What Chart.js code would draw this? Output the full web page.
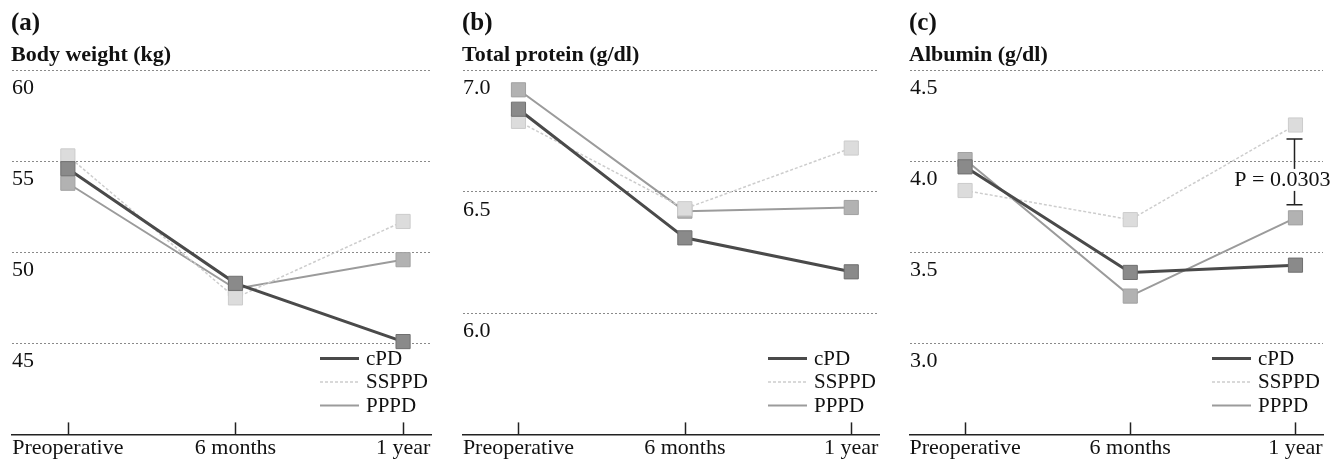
<!DOCTYPE html>
<html>
<head>
<meta charset="utf-8">
<script src="https://cdn.jsdelivr.net/npm/chart.js"></script>
<style>
  html, body { margin: 0; padding: 0; background: #fff; }
  body { width: 1335px; height: 459px; position: relative; overflow: hidden; }
  .panel { position: absolute; top: 0; height: 459px; }
</style>
</head>
<body>
<div class="panel" id="wrapA" style="left:1px;width:442px"><canvas id="chartA"></canvas></div>
<div class="panel" id="wrapB" style="left:452px;width:439px"><canvas id="chartB"></canvas></div>
<div class="panel" id="wrapC" style="left:899px;width:436px"><canvas id="chartC"></canvas></div>
<script>
const categories = ['Preoperative', '6 months', '1 year']
const seriesNames = ['cPD', 'SSPPD', 'PPPD']

// (a) body weight, kg
const weightCPD = [54.6, 48.3, 45.1]
const weightSSPPD = [55.3, 47.5, 51.7]
const weightPPPD = [53.8, 48.0, 49.6]
const weightTicks = [45, 50, 55, 60]
const weightTickLabels = ['45', '50', '55', '60']

// (b) total protein, g/dl
const proteinCPD = [6.84, 6.31, 6.17]
const proteinSSPPD = [6.79, 6.43, 6.68]
const proteinPPPD = [6.92, 6.42, 6.435]
const proteinTicks = [6.0, 6.5, 7.0]
const proteinTickLabels = ['6.0', '6.5', '7.0']

// (c) albumin, g/dl
const albuminCPD = [3.97, 3.39, 3.43]
const albuminSSPPD = [3.84, 3.68, 4.20]
const albuminPPPD = [4.01, 3.26, 3.69]
const albuminTicks = [3.0, 3.5, 4.0, 4.5]
const albuminTickLabels = ['3.0', '3.5', '4.0', '4.5']
const albuminPText = 'P = 0.0303'

const serif = "'Liberation Serif', 'Times New Roman', 'DejaVu Serif', serif"

const lineStyles = [
    { border: '#4a4a4a', width: 3, dash: [], fill: '#8a8a8a', edge: '#707070' },
    { border: '#cdcdcd', width: 1.5, dash: [3, 2], fill: '#dcdcdc', edge: '#cccccc' },
    { border: '#9b9b9b', width: 2, dash: [], fill: '#b2b2b2', edge: '#a2a2a2' }
]

const decor = {
    id: 'decor',
    afterDraw(chart) {
        const { ctx, chartArea, scales } = chart
        const xs = scales.x, ys = scales.y
        const extra = chart.options.plugins.decor || {}
        ctx.save()
        // tick marks pointing up into the plot
        ctx.strokeStyle = '#222'
        ctx.lineWidth = 1.5
        xs.ticks.forEach(t => {
            const px = Math.round(xs.getPixelForValue(t.value)) + 0.5
            ctx.beginPath()
            ctx.moveTo(px, chartArea.bottom)
            ctx.lineTo(px, chartArea.bottom - 12)
            ctx.stroke()
        })
        // legend, bottom right inside the plot
        const tx = chartArea.right - 65
        chart.data.datasets.forEach((ds, i) => {
            const y = chartArea.bottom - 76 + i * 23.5
            ctx.strokeStyle = ds.borderColor
            ctx.lineWidth = ds.borderWidth
            ctx.setLineDash(ds.borderDash || [])
            ctx.beginPath()
            ctx.moveTo(tx - 46, y)
            ctx.lineTo(tx - 7, y)
            ctx.stroke()
            ctx.setLineDash([])
            ctx.fillStyle = '#111'
            ctx.font = '21px ' + serif
            ctx.textAlign = 'left'
            ctx.textBaseline = 'middle'
            ctx.fillText(ds.label, tx, y + 1)
        })
        // significance bracket
        if (extra.bracket) {
            const b = extra.bracket
            const hi = chart.data.datasets[b.upper].data[b.index].y
            const lo = chart.data.datasets[b.lower].data[b.index].y
            const bx = Math.round(xs.getPixelForValue(b.index)) - 0.5
            const top = ys.getPixelForValue(hi) + 14
            const bottom = ys.getPixelForValue(lo) - 13
            ctx.strokeStyle = '#222'
            ctx.lineWidth = 1.5
            ctx.beginPath()
            ctx.moveTo(bx - 8, top); ctx.lineTo(bx + 8, top)
            ctx.moveTo(bx, top); ctx.lineTo(bx, bottom)
            ctx.moveTo(bx - 8, bottom); ctx.lineTo(bx + 8, bottom)
            ctx.stroke()
            ctx.font = '22px ' + serif
            const w = ctx.measureText(b.text).width
            const mid = (top + bottom) / 2 + 8
            ctx.fillStyle = '#fff'
            ctx.fillRect(bx + 36 - w - 2, mid - 11, w + 4, 22)
            ctx.fillStyle = '#111'
            ctx.textAlign = 'right'
            ctx.textBaseline = 'middle'
            ctx.fillText(b.text, bx + 36, mid)
        }
        ctx.restore()
    }
}

function makeSeries(values, i) {
    const s = lineStyles[i]
    return {
        label: seriesNames[i],
        data: values.map((v, k) => ({ x: k, y: v })),
        borderColor: s.border,
        borderWidth: s.width,
        borderDash: s.dash,
        pointStyle: 'rect',
        pointRadius: 10,
        pointBackgroundColor: s.fill,
        pointBorderColor: s.edge,
        pointBorderWidth: 1,
        tension: 0
    }
}

function makeChart(canvasId, letter, title, series, yMin, yMax, ticks, tickLabels, bracket) {
    new Chart(document.getElementById(canvasId), {
        type: 'line',
        data: { datasets: series.map(makeSeries) },
        plugins: [decor],
        options: {
            responsive: true,
            maintainAspectRatio: false,
            animation: false,
            layout: { padding: { left: 10, right: 12, top: 0, bottom: -4 } },
            plugins: {
                legend: { display: false },
                tooltip: { enabled: false },
                title: {
                    display: true, text: letter, align: 'start', color: '#111',
                    font: { family: serif, size: 25, weight: 'bold' },
                    padding: { top: 9, bottom: 0 }
                },
                subtitle: {
                    display: true, text: title, align: 'start', color: '#111',
                    font: { family: serif, size: 22, weight: 'bold' },
                    padding: { top: 3, bottom: 2 }
                },
                decor: { bracket: bracket }
            },
            scales: {
                x: {
                    type: 'linear',
                    min: -1 / 3,
                    max: 2 + 1 / 6,
                    afterBuildTicks: axis => { axis.ticks = categories.map((c, k) => ({ value: k })) },
                    grid: { display: false, drawTicks: false },
                    border: { display: true, color: '#222', width: 1.5 },
                    ticks: {
                        callback: v => categories[v],
                        color: '#111',
                        font: { family: serif, size: 22, lineHeight: 1.3 },
                        padding: 0,
                        maxRotation: 0,
                        autoSkip: false
                    }
                },
                y: {
                    min: yMin,
                    max: yMax,
                    afterBuildTicks: axis => { axis.ticks = ticks.map(v => ({ value: v })) },
                    grid: { color: '#8a8a8a', lineWidth: 1, drawTicks: false },
                    border: { display: false, dash: [2, 2] },
                    ticks: {
                        mirror: true,
                        padding: 0,
                        labelOffset: 18,
                        color: '#111',
                        font: { family: serif, size: 22 },
                        callback: v => tickLabels[ticks.indexOf(v)]
                    }
                }
            }
        }
    })
}

makeChart('chartA', '(a)', 'Body weight (kg)',
    [weightCPD, weightSSPPD, weightPPPD], 40, 60, weightTicks, weightTickLabels)
makeChart('chartB', '(b)', 'Total protein (g/dl)',
    [proteinCPD, proteinSSPPD, proteinPPPD], 5.5, 7.0, proteinTicks, proteinTickLabels)
makeChart('chartC', '(c)', 'Albumin (g/dl)',
    [albuminCPD, albuminSSPPD, albuminPPPD], 2.5, 4.5, albuminTicks, albuminTickLabels,
    { upper: 1, lower: 2, index: 2, text: albuminPText })
</script>
</body>
</html>
